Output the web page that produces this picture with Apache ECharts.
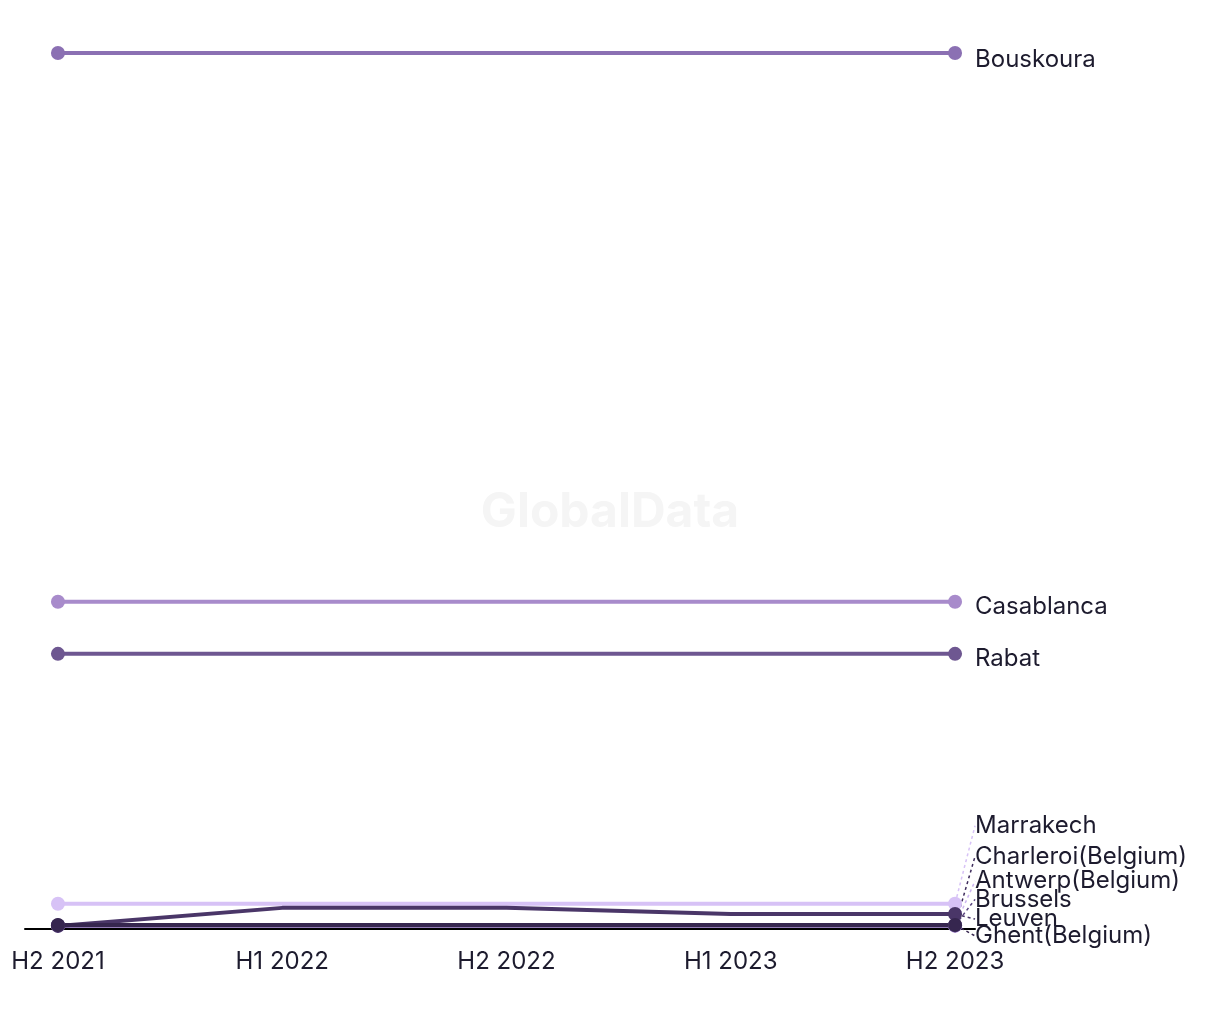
<!DOCTYPE html>
<html>
<head>
<meta charset="utf-8">
<script src="https://cdn.jsdelivr.net/npm/echarts@6/dist/echarts.min.js"></script>
<style>
html,body{margin:0;padding:0;background:#fff;}
#chart{width:1220px;height:1020px;}
</style>
</head>
<body>
<div id="chart"></div>
<script>
const categories = ['H2 2021', 'H1 2022', 'H2 2022', 'H1 2023', 'H2 2023'];
const seriesNames = ['Bouskoura', 'Casablanca', 'Rabat', 'Marrakech', 'Charleroi(Belgium)', 'Antwerp(Belgium)', 'Brussels', 'Leuven', 'Ghent(Belgium)'];
const bouskoura = [1700, 1700, 1700, 1700, 1700];
const casablanca = [635, 635, 635, 635, 635];
const rabat = [534, 534, 534, 534, 534];
const marrakech = [49, 49, 49, 49, 49];
const charleroi = [7, 7, 7, 7, 7];
const antwerp = [6, 6, 6, 6, 6];
const brussels = [7, 7, 7, 7, 7];
const leuven = [6, 41, 41, 29, 29];
const ghent = [8, 8, 8, 8, 8];
const seriesValues = [bouskoura, casablanca, rabat, marrakech, charleroi, antwerp, brussels, leuven, ghent];

// styling / layout (not data)
const colors = ['#8b70b3', '#a88bcb', '#6e5791', '#d7c2f6', '#3e2c5c', '#cdb5ef', '#5a4480', '#4a3668', '#36264f'];
const labelShift = [7, 5, 5, -78, -69, -45, -26, 5, 11];
const showLeader = [false, false, false, true, true, true, true, true, true];

const FONT = 'Inter';
const chart = echarts.init(document.getElementById('chart'));
const last = categories.length - 1;

const series = seriesNames.map((name, si) => ({
  name: name,
  type: 'line',
  data: seriesValues[si].map((v, i) => {
    const item = { value: [i, v] };
    if (i !== 0 && i !== last) {
      item.symbol = 'none';
    }
    if (i === last) {
      item.label = { show: true };
    }
    return item;
  }),
  color: colors[si],
  symbol: 'circle',
  symbolSize: 14,
  showAllSymbol: true,
  lineStyle: { width: 4, color: colors[si] },
  itemStyle: { color: colors[si] },
  z: 2,
  label: {
    show: false,
    position: 'right',
    distance: 13,
    formatter: name,
    color: '#1d1b2e',
    fontFamily: FONT,
    fontSize: 24
  },
  labelLine: {
    show: showLeader[si],
    length2: 0,
    lineStyle: { type: [3, 3], width: 1.5, color: colors[si] }
  },
  labelLayout: function () {
    return { dy: labelShift[si] };
  },
  emphasis: { disabled: true }
}));

chart.setOption({
  animation: false,
  backgroundColor: '#ffffff',
  graphic: [{
    type: 'text',
    left: 'center',
    top: 489,
    style: {
      text: 'GlobalData',
      font: 'bold 48px ' + FONT,
      fill: '#f5f5f5'
    },
    z: -1
  }],
  grid: { left: 25, right: 245, top: 53, bottom: 91, containLabel: false },
  xAxis: {
    type: 'value',
    min: -0.147,
    max: 4.089,
    splitLine: { show: false },
    axisLine: { show: true, lineStyle: { color: '#000000', width: 2 } },
    axisTick: { show: false },
    axisLabel: {
      customValues: [0, 1, 2, 3, 4],
      formatter: v => categories[Math.round(v)],
      color: '#1d1b2e',
      fontFamily: FONT,
      fontSize: 24,
      margin: 21,
      showMinLabel: true,
      showMaxLabel: true
    }
  },
  yAxis: {
    type: 'value',
    min: 0,
    max: 1700,
    show: false,
    splitLine: { show: false }
  },
  series: series
});
</script>
</body>
</html>
